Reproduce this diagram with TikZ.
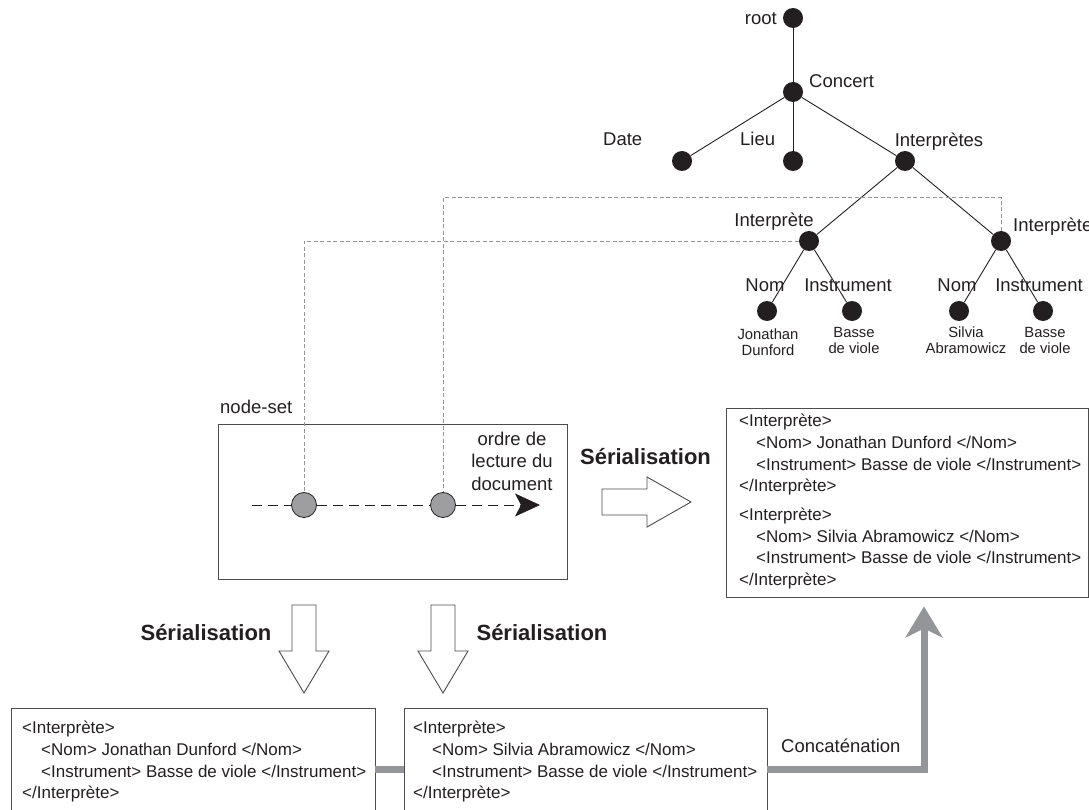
\documentclass[tikz,border=0pt]{standalone}
\usepackage{fontspec}
\setmainfont{Liberation Sans}
\usetikzlibrary{arrows.meta}
\definecolor{inkblack}{RGB}{35,31,32}
\definecolor{linkgray}{RGB}{150,150,150}
\definecolor{concatgray}{RGB}{147,149,152}
\definecolor{selgray}{RGB}{158,158,161}
\begin{document}
\begin{tikzpicture}[
    x=1pt, y=-1pt,
    % Styles
    treenode/.style={circle, fill=inkblack, minimum size=20pt, inner sep=0pt},
    treeedge/.style={draw=inkblack, line width=0.9pt},
    taglabel/.style={font=\fontsize{18.5}{22.5}\selectfont, text=inkblack, inner sep=0pt},
    valuelabel/.style={font=\fontsize{14.8}{15.8}\selectfont, text=inkblack, inner sep=0pt, align=center, anchor=north},
    link/.style={draw=linkgray, line width=0.8pt, dash pattern=on 4pt off 2.5pt},
    selnode/.style={circle, draw=inkblack, fill=selgray, line width=0.8pt, minimum size=25pt, inner sep=0pt},
    boxframe/.style={draw=black!70, line width=0.9pt, inner sep=0pt},
    xmltext/.style={font=\fontsize{17}{21.7}\selectfont, text=inkblack, align=left, inner sep=0pt, anchor=north west},
    steplabel/.style={font=\fontsize{22}{26}\selectfont\bfseries, text=inkblack, inner sep=0pt, anchor=base},
    hollow/.style={draw=black!70, line width=0.9pt, fill=white},
    concat/.style={draw=concatgray, line width=7pt}
]
\useasboundingbox (0,0) rectangle (1089,810);

% --- Tree ---
\node[treenode] (root) at (793, 18) {};
\node[treenode] (concert) at (793, 92) {};
\node[treenode] (date) at (682, 161) {};
\node[treenode] (lieu) at (793, 161) {};
\node[treenode] (interpretes) at (905, 161) {};
\node[treenode] (interp1) at (809, 241) {};
\node[treenode] (interp2) at (1001, 241) {};
\node[treenode] (nom1) at (767, 311) {};
\node[treenode] (instr1) at (852, 311) {};
\node[treenode] (nom2) at (959, 311) {};
\node[treenode] (instr2) at (1043, 311) {};

\begin{scope}[treeedge]
    \draw (root) -- (concert);
    \draw (concert) -- (date);
    \draw (concert) -- (lieu);
    \draw (concert) -- (interpretes);
    \draw (interpretes) -- (interp1);
    \draw (interpretes) -- (interp2);
    \draw (interp1) -- (nom1);
    \draw (interp1) -- (instr1);
    \draw (interp2) -- (nom2);
    \draw (interp2) -- (instr2);
\end{scope}

% Tree labels
\node[taglabel, anchor=base east] (lroot) at (777, 24.5) {root};
\node[taglabel, anchor=base west] (lconcert) at (809, 88) {Concert};
\node[taglabel, anchor=base west] (ldate) at (603, 146) {Date};
\node[taglabel, anchor=base west] (llieu) at (740, 146) {Lieu};
\node[taglabel, anchor=base] (linterpretes) at (939, 146.5) {Interprètes};
\node[taglabel, anchor=base] (linterp1) at (774, 226.5) {Interprète};
\node[taglabel, anchor=base west] (linterp2) at (1013, 231.5) {Interprète};
\node[taglabel, anchor=base] (lnom1) at (765, 291.5) {Nom};
\node[taglabel, anchor=base] (linstr1) at (848, 291.5) {Instrument};
\node[taglabel, anchor=base] (lnom2) at (957, 291.5) {Nom};
\node[taglabel, anchor=base] (linstr2) at (1039, 291.5) {Instrument};

\node[valuelabel] (vnom1) at (768, 329) {Jonathan\\Dunford};
\node[valuelabel] (vinstr1) at (854, 327) {Basse\\de viole};
\node[valuelabel] (vnom2) at (966, 327) {Silvia\\Abramowicz};
\node[valuelabel] (vinstr2) at (1045, 327) {Basse\\de viole};

% --- Node-set ---
\node[boxframe, minimum width=349pt, minimum height=155pt] (nodeset) at (392.5, 501.5) {};
\node[taglabel, anchor=base west] (lnodeset) at (220, 413) {node-set};
\node[selnode] (sel1) at (304, 505) {};
\node[selnode] (sel2) at (443, 505) {};
\coordinate (readstart) at (252, 505);
\coordinate (readend) at (540, 505);
\draw[inkblack, line width=0.8pt, dash pattern=on 10pt off 6pt,
    -{Stealth[length=25pt, width=23pt, inset=6pt]}] (readstart) -- (sel1) -- (sel2) -- (readend);
\node[taglabel, align=center, anchor=north] (lorder) at (512, 431.5) {ordre de\\lecture du\\document};

% --- Links from tree to node-set ---
\draw[link] (interp1.west) -| (sel1.north);
\draw[link] (interp2.north) -- ++(0,-33) -| (sel2.north);

% --- Serialisation of the whole node-set ---
\node[steplabel] (lserial) at (645.5, 464) {Sérialisation};
\draw[hollow] (602,489) -- (647,489) -- (647,477) -- (691,502) -- (647,527) -- (647,515) -- (602,515) -- cycle;

\node[boxframe, minimum width=362pt, minimum height=189pt] (result) at (907, 502.5) {};
\node[xmltext] (resulttext) at (739, 414) {<Interprète>\\
    \hspace*{17pt}<Nom> Jonathan Dunford </Nom>\\
    \hspace*{17pt}<Instrument> Basse de viole </Instrument>\\
    </Interprète>\\[7pt]
    <Interprète>\\
    \hspace*{17pt}<Nom> Silvia Abramowicz </Nom>\\
    \hspace*{17pt}<Instrument> Basse de viole </Instrument>\\
    </Interprète>};

% --- Serialisation of each node ---
\node[steplabel] (lserial1) at (206, 640) {Sérialisation};
\node[steplabel] (lserial2) at (542, 640) {Sérialisation};
\draw[hollow] (292,605) -- (316,605) -- (316,651) -- (329,651) -- (304,693) -- (279,651) -- (292,651) -- cycle;
\draw[hollow] (431,605) -- (455,605) -- (455,651) -- (468,651) -- (443,693) -- (418,651) -- (431,651) -- cycle;

\node[boxframe, minimum width=364pt, minimum height=122pt] (part1) at (193, 769) {};
\node[xmltext] (part1text) at (22, 721) {<Interprète>\\
    \hspace*{19pt}<Nom> Jonathan Dunford </Nom>\\
    \hspace*{19pt}<Instrument> Basse de viole </Instrument>\\
    </Interprète>};
\node[boxframe, minimum width=363pt, minimum height=122pt] (part2) at (585.5, 769) {};
\node[xmltext] (part2text) at (413, 721) {<Interprète>\\
    \hspace*{19pt}<Nom> Silvia Abramowicz </Nom>\\
    \hspace*{19pt}<Instrument> Basse de viole </Instrument>\\
    </Interprète>};

% --- Concatenation ---
\draw[concat] (part1.east) -- (part2.west);
\draw[concat, -{Stealth[length=31pt, width=37pt, inset=9pt]}] (part2.east) -| ([xshift=17pt, yshift=-9pt]result.south);
\node[taglabel, anchor=base west] (lconcat) at (781, 752.5) {Concaténation};

\end{tikzpicture}
\end{document}
